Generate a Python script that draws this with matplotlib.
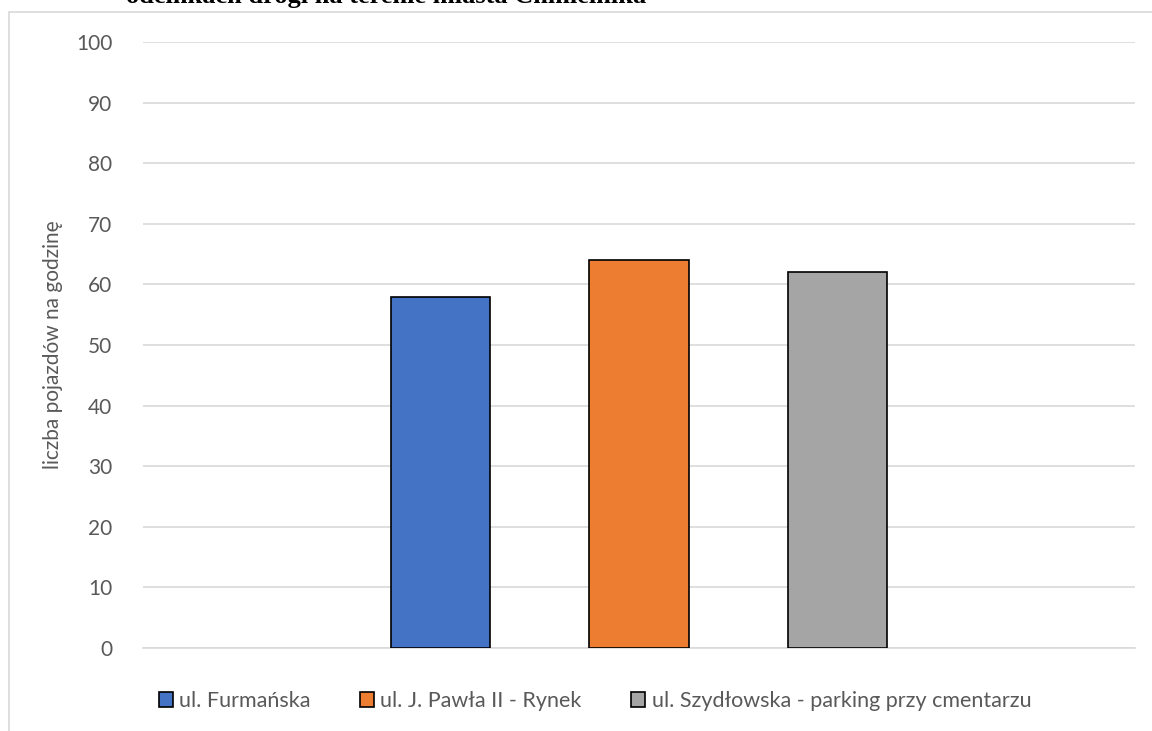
import matplotlib
matplotlib.use('Agg')
import matplotlib.pyplot as plt
from matplotlib.patches import Rectangle, Patch

# vehicles per hour at each counting point
LOCATIONS = ['ul. Furmańska', 'ul. J. Pawła II - Rynek', 'ul. Szydłowska - parking przy cmentarzu']
VALUES = [58, 64, 62]
COLORS = ['#4472C4', '#ED7D31', '#A5A5A5']
POSITIONS = [1, 2, 3]
Y_TICKS = list(range(0, 101, 10))

plt.rcParams['font.family'] = ['Lato', 'DejaVu Sans']
TEXT_GREY = '#595959'

fig = plt.figure(figsize=(11.52, 7.31), dpi=100)

# outer chart frame
fig.patches.append(Rectangle((9 / 1152, -0.1), 1.2, 1.1 - 12 / 731,
                             transform=fig.transFigure, fill=False,
                             edgecolor='#d9d9d9', lw=1.2, zorder=0))

# caption, cut at the top edge
fig.text(126 / 1152, 1 - 3 / 731, 'odcinkach drogi na terenie miasta Chmielnika',
         family='Liberation Serif', fontweight='bold', fontsize=19,
         va='baseline', ha='left')

ax = fig.add_axes([143 / 1152, 1 - 648 / 731, (1135 - 143) / 1152, (648 - 42) / 731])
ax.bar(POSITIONS, VALUES, width=0.5, color=COLORS, edgecolor='black', lw=1.2, zorder=3)

ax.set_xlim(-0.5, 4.5)
ax.set_ylim(0, 100)
ax.set_yticks(Y_TICKS)
ax.set_xticks([])
ax.yaxis.grid(True, color='#d9d9d9', lw=1.2)
ax.set_axisbelow(True)
for side in ['top', 'right', 'left']:
    ax.spines[side].set_visible(False)
ax.spines['bottom'].set_color('#d9d9d9')
ax.spines['bottom'].set_linewidth(1.2)
ax.tick_params(axis='y', length=0, pad=22, labelsize=15, labelcolor=TEXT_GREY)

ax.set_ylabel('liczba pojazdów na godzinę', fontsize=15, color=TEXT_GREY)
ax.yaxis.set_label_coords((53 - 143) / 992, 0.5)
ax.yaxis.label.set_va('center')

handles = [Patch(facecolor=c, edgecolor='black', lw=1.2) for c in COLORS]
fig.legend(handles, LOCATIONS, loc='center', bbox_to_anchor=(595 / 1152, 1 - 701 / 731),
           ncol=3, frameon=False, fontsize=15.5, labelcolor=TEXT_GREY,
           handlelength=0.65, handleheight=0.65, handletextpad=0.3, columnspacing=2.3,
           borderpad=0)

fig.savefig('out.png', dpi=100)
